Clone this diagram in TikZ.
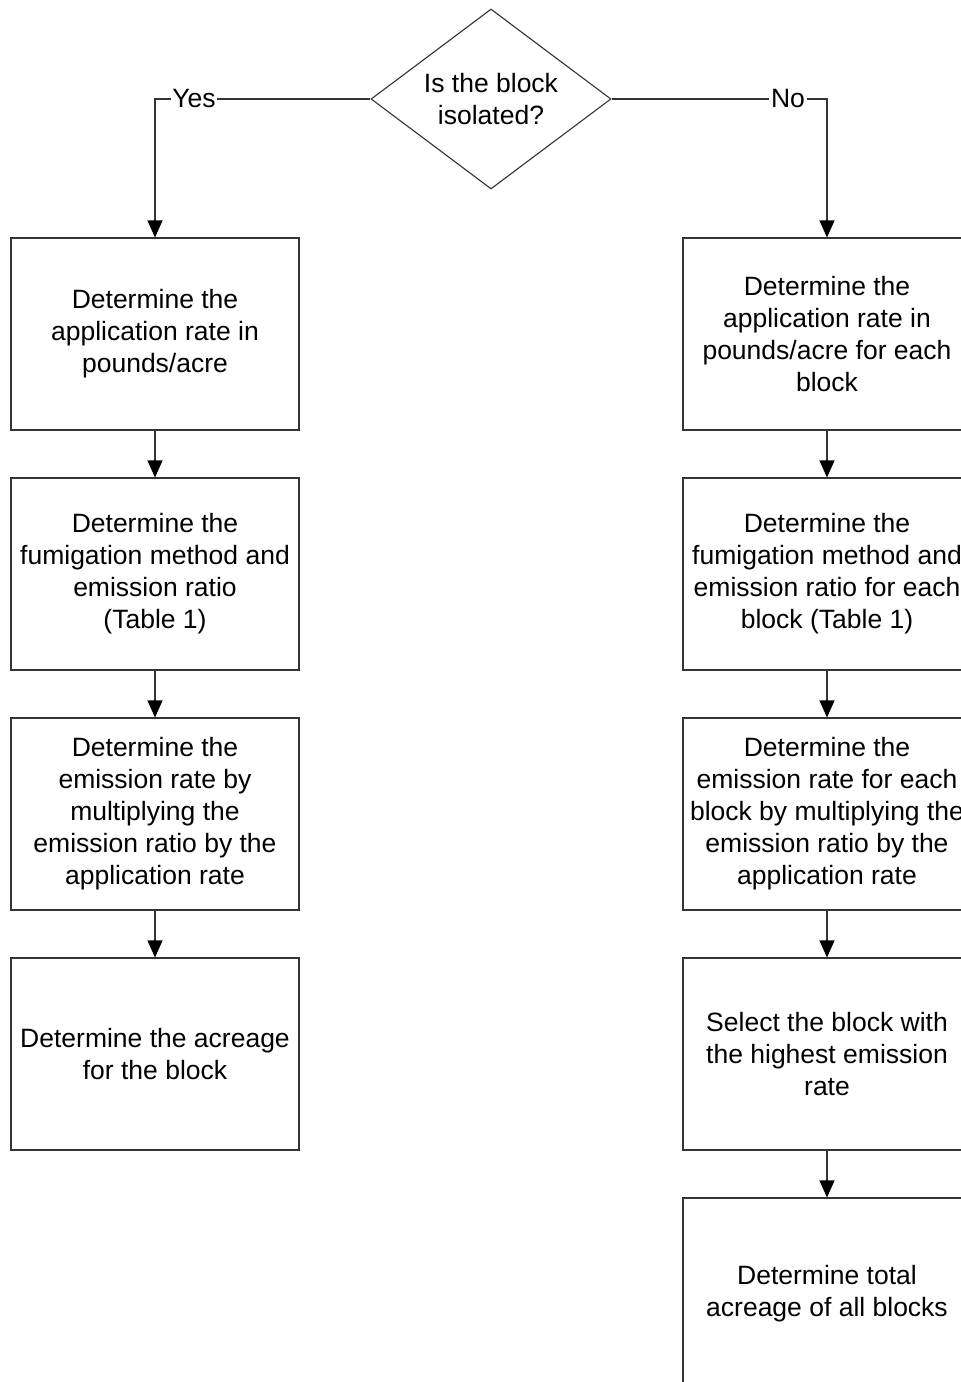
\documentclass[tikz,border=0pt]{standalone}
\usepackage{fontspec}
\setmainfont{Liberation Sans}
\usetikzlibrary{shapes.geometric,arrows.meta}
\begin{document}
\begin{tikzpicture}[x=1pt,y=-1pt,
  stepbox/.style={draw=black!80,line width=1.1pt,rectangle,minimum width=288pt,minimum height=192pt,inner sep=0pt,align=center,font=\fontsize{26.5}{32}\selectfont},
  decision/.style={draw=black!80,line width=1.1pt,diamond,minimum width=240pt,minimum height=180pt,inner sep=0pt,aspect=1.333,align=center,font=\fontsize{26.5}{32}\selectfont},
  lbl/.style={inner sep=1.5pt,font=\fontsize{26.5}{32}\selectfont},
  conn/.style={draw=black!80,line width=1.1pt},
  arr/.style={conn,-{Triangle[width=15pt,length=17pt,color=black]}}]
\clip (0,0) rectangle (961,1382);
\node[decision] (d) at (491,99) {Is the block\\isolated?};
\node[stepbox] (l1) at (155,334) {Determine the\\application rate in\\pounds/acre};
\node[stepbox] (l2) at (155,574) {Determine the\\fumigation method and\\emission ratio\\(Table 1)};
\node[stepbox] (l3) at (155,814) {Determine the\\emission rate by\\multiplying the\\emission ratio by the\\application rate};
\node[stepbox] (l4) at (155,1054) {Determine the acreage\\for the block};
\node[stepbox] (r1) at (827,334) {Determine the\\application rate in\\pounds/acre for each\\block};
\node[stepbox] (r2) at (827,574) {Determine the\\fumigation method and\\emission ratio for each\\block (Table 1)};
\node[stepbox] (r3) at (827,814) {Determine the\\emission rate for each\\block by multiplying the\\emission ratio by the\\application rate};
\node[stepbox] (r4) at (827,1054) {Select the block with\\the highest emission\\rate};
\node[stepbox] (r5) at (827,1294) {Determine total\\acreage of all blocks};
\node[lbl] (yes) at (194,99) {Yes};
\node[lbl] (no) at (788,99) {No};
\draw[conn] (d.west) -- (yes.east);
\draw[arr] (yes.west) -| (l1.north);
\draw[conn] (d.east) -- (no.west);
\draw[arr] (no.east) -| (r1.north);
\draw[arr] (l1) -- (l2);
\draw[arr] (l2) -- (l3);
\draw[arr] (l3) -- (l4);
\draw[arr] (r1) -- (r2);
\draw[arr] (r2) -- (r3);
\draw[arr] (r3) -- (r4);
\draw[arr] (r4) -- (r5);
\end{tikzpicture}
\end{document}
